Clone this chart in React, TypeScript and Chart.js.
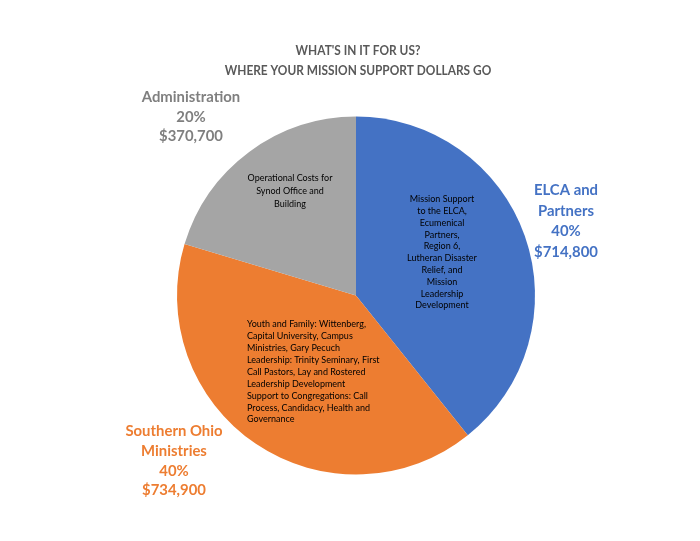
import React, { useEffect, useRef } from "react";
import { Chart, registerables } from "chart.js";

Chart.register(...registerables);

const categories = ["ELCA and Partners", "Southern Ohio Ministries", "Administration"];
const amounts = [714800, 734900, 370700];
const percentLabels = ["40%", "40%", "20%"];
const amountLabels = ["$714,800", "$734,900", "$370,700"];
const outerLabelLines = [
  ["ELCA and", "Partners"],
  ["Southern Ohio", "Ministries"],
  ["Administration"],
];
const innerDescriptions = [
  [
    "Mission Support",
    "to the ELCA,",
    "Ecumenical",
    "Partners,",
    "Region 6,",
    "Lutheran Disaster",
    "Relief, and",
    "Mission",
    "Leadership",
    "Development",
  ],
  [
    "Youth and Family: Wittenberg,",
    "Capital University, Campus",
    "Ministries, Gary Pecuch",
    "Leadership: Trinity Seminary, First",
    "Call Pastors, Lay and Rostered",
    "Leadership Development",
    "Support to Congregations: Call",
    "Process, Candidacy, Health and",
    "Governance",
  ],
  ["Operational Costs for", "Synod Office and", "Building"],
];
const titleLines = ["WHAT'S IN IT FOR US?", "WHERE YOUR MISSION SUPPORT DOLLARS GO"];

const sliceColors = ["#4472C4", "#ED7D31", "#A5A5A5"];
const labelColors = ["#4472C4", "#ED7D31", "#7F7F7F"];
const FONT = "Lato, 'Open Sans', sans-serif";

// layout (pixel) settings for annotation text
const outerPos = [
  { x: 566, y: 190, lh: 20.5 },
  { x: 174, y: 431, lh: 19.7 },
  { x: 191, y: 97, lh: 19.5 },
];
const innerPos = [
  { x: 442, y: 199, lh: 11.8, align: "center" as CanvasTextAlign },
  { x: 247, y: 324, lh: 11.9, align: "left" as CanvasTextAlign },
  { x: 290, y: 178, lh: 12.8, align: "center" as CanvasTextAlign },
];

function drawText(
  ctx: CanvasRenderingContext2D,
  text: string,
  x: number,
  y: number,
  sx: number
) {
  ctx.save();
  ctx.translate(x, y);
  ctx.scale(sx, 1);
  ctx.fillText(text, 0, 0);
  ctx.restore();
}

const textPlugin = {
  id: "textPlugin",
  afterDraw(chart: any) {
    const ctx: CanvasRenderingContext2D = chart.ctx;
    ctx.save();
    ctx.textBaseline = "middle";
    // title
    ctx.fillStyle = "#595959";
    ctx.font = `bold 13.5px ${FONT}`;
    ctx.textAlign = "center";
    titleLines.forEach((t, i) => drawText(ctx, t, 358, 51 + i * 20, 0.88));
    // outer labels
    categories.forEach((_, i) => {
      const lines = [...outerLabelLines[i], percentLabels[i], amountLabels[i]];
      const p = outerPos[i];
      ctx.fillStyle = labelColors[i];
      ctx.font = `bold 16px ${FONT}`;
      ctx.textAlign = "center";
      lines.forEach((t, j) => drawText(ctx, t, p.x, p.y + j * p.lh, 0.93));
    });
    // inner descriptions
    categories.forEach((_, i) => {
      const p = innerPos[i];
      ctx.fillStyle = "#000000";
      ctx.font = `10px ${FONT}`;
      ctx.textAlign = p.align;
      innerDescriptions[i].forEach((t, j) => drawText(ctx, t, p.x, p.y + j * p.lh, 0.9));
    });
    ctx.restore();
  },
};

export default function App() {
  const ref = useRef<HTMLCanvasElement | null>(null);
  useEffect(() => {
    document.body.style.margin = "0";
    const chart = new Chart(ref.current as HTMLCanvasElement, {
      type: "pie",
      data: {
        labels: categories,
        datasets: [
          {
            data: amounts,
            backgroundColor: sliceColors,
            borderWidth: 0,
          },
        ],
      },
      options: {
        animation: false,
        responsive: false,
        rotation: 0,
        layout: { padding: { top: 116, bottom: 66, left: 177, right: 165 } },
        plugins: {
          legend: { display: false },
          tooltip: { enabled: false },
          title: { display: false },
        },
      },
      plugins: [textPlugin],
    });
    return () => chart.destroy();
  }, []);
  return (
    <div style={{ position: "absolute", left: 0, top: 0, width: 700, height: 541, background: "#fff" }}>
      <canvas ref={ref} width={700} height={541} style={{ width: 700, height: 541 }} />
    </div>
  );
}
